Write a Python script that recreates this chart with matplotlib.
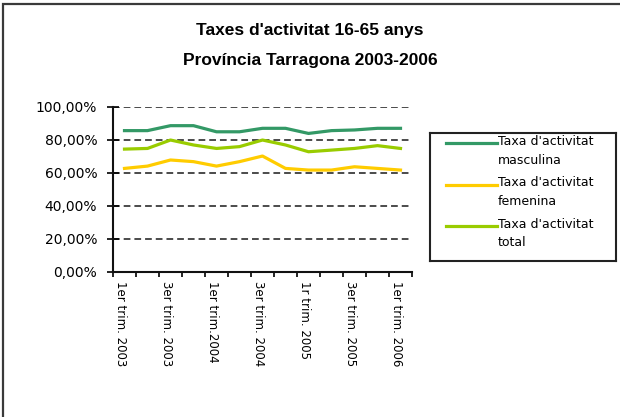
import matplotlib
matplotlib.use('Agg')
import matplotlib.pyplot as plt
import matplotlib.ticker as ticker
from matplotlib.patches import Rectangle
from matplotlib.transforms import ScaledTranslation

# quarters 1er trim. 2003 .. 1er trim. 2006
quarters = list(range(13))
tick_labels = ['1er trim. 2003', '3er trim. 2003', '1er trim.2004', '3er trim. 2004',
               '1r trim. 2005', '3er trim. 2005', '1er trim. 2006']
masculina = [85.5, 85.5, 88.5, 88.5, 84.8, 84.8, 86.9, 86.9, 83.8, 85.5, 85.9, 86.9, 86.9]
femenina = [62.6, 64.0, 67.7, 66.7, 64.0, 66.7, 70.1, 62.6, 61.6, 61.6, 63.6, 62.6, 61.6]
total = [74.3, 74.7, 79.8, 76.8, 74.7, 75.8, 79.8, 76.8, 72.7, 73.7, 74.7, 76.4, 74.7]

series = [
    ("Taxa d'activitat\nmasculina", masculina, '#339966'),
    ("Taxa d'activitat\nfemenina", femenina, '#FFCC00'),
    ("Taxa d'activitat\ntotal", total, '#99CC00'),
]

W, H = 620, 417
fig = plt.figure(figsize=(6.2, 4.17), dpi=100)
fig.patch.set_facecolor('white')

# chart area border (only top/left visible in the picture)
fig.patches.append(Rectangle((2.5 / W, -0.2), 1.5, 1 + 0.2 - 3.5 / H, transform=fig.transFigure,
                             fill=False, ec='#3a3a3a', lw=1.6))

fig.text(0.5, 1 - 30 / H, "Taxes d'activitat 16-65 anys", ha='center', va='center',
         fontsize=12.5, fontweight='bold', family='Liberation Sans')
fig.text(0.5, 1 - 61 / H, "Província Tarragona 2003-2006", ha='center', va='center',
         fontsize=12.5, fontweight='bold', family='Liberation Sans')

ax = fig.add_axes([113 / W, 1 - 271.7 / H, 299 / W, 165 / H])
for label, vals, col in series:
    ax.plot(quarters, [v / 100 for v in vals], color=col, lw=2.3, solid_joinstyle='round', zorder=3)

ax.set_xlim(-0.5, 12.5)
ax.set_ylim(0, 1)
ax.set_yticks([0, 0.2, 0.4, 0.6, 0.8, 1.0])
ax.yaxis.set_major_formatter(ticker.FuncFormatter(
    lambda v, pos: f'{v * 100:.2f}'.replace('.', ',') + '%'))
for y in [0.2, 0.4, 0.6, 0.8, 1.0]:
    ax.axhline(y, color='#1a1a1a', lw=1.1, ls=(0, (4.4, 2.6)), zorder=1)

ax.set_xticks(quarters[::2])
ax.set_xticklabels(tick_labels, rotation=-90, va='top', ha='center', fontsize=8.5)
ax.set_xticks([q - 0.5 for q in quarters] + [12.5], minor=True)
ax.tick_params(axis='x', which='major', length=0, pad=7)
ax.tick_params(axis='x', which='minor', direction='out', length=3.5, width=1.2)
ax.tick_params(axis='y', direction='inout', length=8.6, width=1.2, pad=7, labelsize=10)
shift = ScaledTranslation(-4 / 100, 0, fig.dpi_scale_trans)
for lbl in ax.get_xticklabels():
    lbl.set_transform(lbl.get_transform() + shift)

for s in ['top', 'right']:
    ax.spines[s].set_visible(False)
for s in ['left', 'bottom']:
    ax.spines[s].set_linewidth(1.5)
    ax.spines[s].set_color('#111111')

# legend box
lg = fig.add_axes([430 / W, 1 - 261 / H, 186 / W, 128 / H])
lg.set_xlim(0, 186)
lg.set_ylim(128, 0)
lg.set_xticks([])
lg.set_yticks([])
for s in lg.spines.values():
    s.set_linewidth(1.5)
    s.set_color('#222222')
for i, (label, vals, col) in enumerate(series):
    y0 = 10 + i * 41.5
    lg.plot([16, 67], [y0, y0], color=col, lw=2.3)
    lg.text(68, y0 - 8, label, va='top', ha='left', fontsize=9, linespacing=1.55)

fig.savefig('out.png', dpi=100)
